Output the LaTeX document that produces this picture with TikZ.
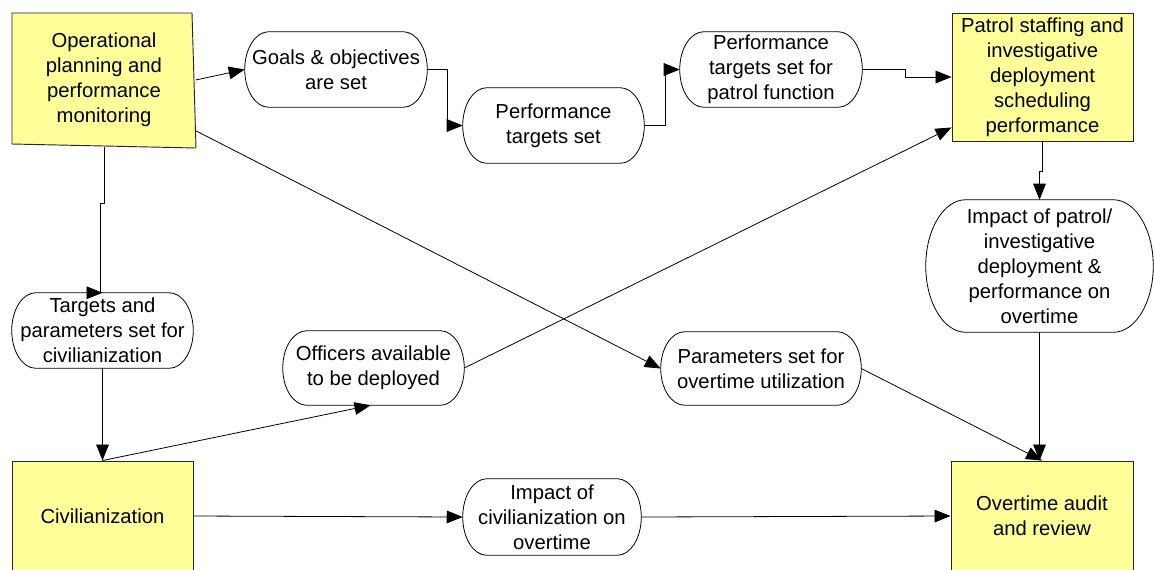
\documentclass[tikz,border=0pt]{standalone}
\usepackage{fontspec}
\setmainfont{Liberation Sans}
\usetikzlibrary{arrows.meta,calc}
\newdimen\pxu \pxu=0.75pt
\definecolor{boxyellow}{RGB}{255,255,153}
\tikzset{
  txt/.style={font=\fontsize{15.2pt}{18.75pt}\selectfont, align=center, inner sep=0pt},
  ybox/.style={txt, draw=black!85, fill=boxyellow, line width=0.7pt},
  term/.style={txt},
  conn/.style={draw=black, line width=0.6pt, -{Triangle[length=12pt,width=9.5pt]}},
}
% draw a terminator outline with elliptical ends around node #2, end x-radius #1 (pt)
\newcommand\termoutline[2][18]{%
  \begin{scope}[x=1pt,y=1pt]
  \path let \p1=(#2.north west), \p2=(#2.south east), \n1={(\y1-\y2)/2} in
    [draw=black, fill=white, line width=0.6pt]
    (\x1+#1pt,\y1) -- (\x2-#1pt,\y1)
    arc[start angle=90, end angle=-90, x radius={#1*1pt}, y radius={\n1*1pt}]
    -- (\x1+#1pt,\y2)
    arc[start angle=270, end angle=90, x radius={#1*1pt}, y radius={\n1*1pt}]
    -- cycle;
  \end{scope}}
\begin{document}
\begin{tikzpicture}[x=0.75pt, y=-0.75pt]
\useasboundingbox (0,0) rectangle (1155,569);
% Operational planning (slightly skewed box)
\filldraw[fill=boxyellow, draw=black!85, line width=0.7pt] (12,13) -- (192,13) -- (196,148) -- (12,144) -- cycle;
\node[txt, minimum width=183\pxu, minimum height=133\pxu] (op) at (104,80) {Operational\\planning and\\performance\\monitoring};
\node[term, minimum width=182\pxu, minimum height=75\pxu] (goals) at (336,69.5) {};
\node[term, minimum width=181\pxu, minimum height=75\pxu] (perf) at (553.5,125.5) {};
\node[term, minimum width=182\pxu, minimum height=75\pxu] (patrolfn) at (771,69.5) {};
\node[ybox, minimum width=181\pxu, minimum height=128\pxu] (staff) at (1042.5,77) {Patrol staffing and\\investigative\\deployment\\scheduling\\performance};
\node[term, minimum width=227\pxu, minimum height=132\pxu] (impactp) at (1039.5,266) {};
\node[term, minimum width=181\pxu, minimum height=75\pxu] (targets) at (102.5,330.5) {};
\node[term, minimum width=181\pxu, minimum height=74\pxu] (officers) at (373.5,368) {};
\node[term, minimum width=200\pxu, minimum height=73\pxu] (params) at (761,368.5) {};
\node[ybox, minimum width=181\pxu, minimum height=110\pxu] (civ) at (102.5,516) {Civilianization};
\node[term, minimum width=178\pxu, minimum height=76\pxu] (impactc) at (552,517) {};
\node[ybox, minimum width=182\pxu, minimum height=110\pxu] (audit) at (1042,516) {Overtime audit\\and review};
% terminator outlines
\termoutline{goals}
\termoutline{perf}
\termoutline{patrolfn}
\termoutline[30]{impactp}
\termoutline{targets}
\termoutline{officers}
\termoutline{params}
\termoutline{impactc}
% terminator texts
\node[txt] at (goals) {Goals \& objectives\\are set};
\node[txt] at (perf) {Performance\\targets set};
\node[txt] at (patrolfn) {Performance\\targets set for\\patrol function};
\node[txt] at (impactp) {Impact of patrol/\\investigative\\deployment \&\\performance on\\overtime};
\node[txt] at (targets) {Targets and\\parameters set for\\civilianization};
\node[txt] at (officers) {Officers available\\to be deployed};
\node[txt] at (params) {Parameters set for\\overtime utilization};
\node[txt] at (impactc) {Impact of\\civilianization on\\overtime};
% connectors
\draw[conn] (op.east) -- (goals.west);
\draw[conn] (goals.east) -- ++(20,0) |- (perf.west);
\draw[conn] (perf.east) -- ++(21,0) |- (patrolfn.west);
\draw[conn] (patrolfn.east) -- ++(43,0) |- (staff.west);
\draw[conn] (op.south) -- ++(0,57) -- ++(-4,0) |- (targets.north);
\draw[conn] ($(op.south east)+(0,-16)$) -- (params.west);
\draw[conn] (targets.south) -- (civ.north);
\draw[conn] (civ.north) -- ($(officers.south)+(-3,0)$);
\draw[conn] (officers.east) -- ($(staff.south west)+(0,-14)$);
\draw[conn] (staff.south) -- ++(0,30) -| (impactp.north);
\draw[conn] (impactp.south) -- (impactp.south |- audit.north);
\draw[conn] (params.east) -- (audit.north);
\draw[conn] (civ.east) -- (impactc.west);
\draw[conn] (impactc.east) -- (audit.west);
\end{tikzpicture}
\end{document}
